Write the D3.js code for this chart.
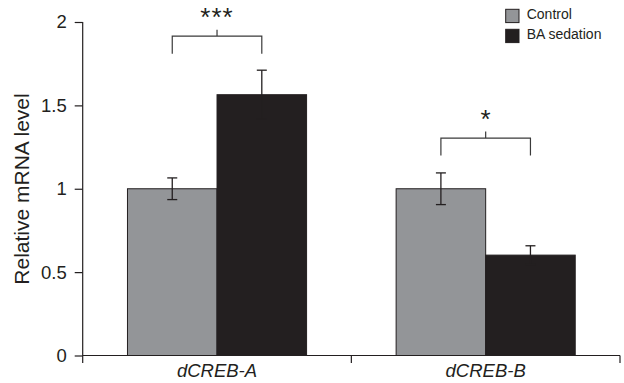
<!DOCTYPE html>
<html lang="en">
<head>
  <meta charset="UTF-8" />
  <title>Relative mRNA level</title>
  <style>
    body { margin: 0; background: #fff; }
    text { font-family: "Liberation Sans", Arial, sans-serif; fill: #231f20; }
  </style>
</head>
<body>
  <div class="chart"></div>
  <script src="https://cdn.jsdelivr.net/npm/d3@7/dist/d3.min.js"></script>
  <script>
    var genes = ["dCREB-A", "dCREB-B"];
    var groups = ["Control", "BA sedation"];
    var controlValues = [1.0, 1.0];
    var controlErrors = [0.065, 0.095];
    var sedationValues = [1.564, 0.602];
    var sedationErrors = [0.147, 0.056];
    var stars = ["***", "*"];
    var yTicks = [0, 0.5, 1, 1.5, 2];

    var colors = { "Control": "#939598", "BA sedation": "#231f20" };

    var w = 624, h = 383;
    var svg = d3.select(".chart").append("svg")
      .attr("width", w)
      .attr("height", h);

    var x = d3.scaleBand().domain(genes).range([82.7, 620]);
    var xSub = d3.scaleBand().domain(groups)
      .range([0, x.bandwidth()])
      .paddingOuter(0.5);
    var y = d3.scaleLinear().domain([0, 2]).range([355.5, 22]);

    var rows = [];
    genes.forEach(function(g, i) {
      rows.push({ gene: g, group: "Control", value: controlValues[i], err: controlErrors[i] });
      rows.push({ gene: g, group: "BA sedation", value: sedationValues[i], err: sedationErrors[i] });
    });

    // bars
    svg.selectAll("rect.bar")
      .data(rows)
      .enter()
      .append("rect")
      .attr("class", "bar")
      .attr("x", function(d) { return x(d.gene) + xSub(d.group); })
      .attr("y", function(d) { return y(d.value); })
      .attr("width", xSub.bandwidth())
      .attr("height", function(d) { return y(0) - y(d.value); })
      .attr("fill", function(d) { return colors[d.group]; })
      .attr("stroke", "#231f20")
      .attr("stroke-width", 1);

    // error bars
    var err = svg.append("g")
      .attr("stroke", "#231f20")
      .attr("stroke-width", 1.3);
    rows.forEach(function(d) {
      var cx = x(d.gene) + xSub(d.group) + xSub.bandwidth() / 2;
      var top = y(d.value + d.err), bot = y(d.value - d.err);
      err.append("line").attr("x1", cx).attr("x2", cx).attr("y1", top).attr("y2", bot);
      err.append("line").attr("x1", cx - 5).attr("x2", cx + 5).attr("y1", top).attr("y2", top);
      err.append("line").attr("x1", cx - 5).attr("x2", cx + 5).attr("y1", bot).attr("y2", bot);
    });

    // significance brackets
    var brackets = [
      { gene: genes[0], level: 1.915, leg: 0.105, label: stars[0] },
      { gene: genes[1], level: 1.304, leg: 0.105, label: stars[1] }
    ];
    var br = svg.append("g");
    brackets.forEach(function(b) {
      var x1 = x(b.gene) + xSub("Control") + xSub.bandwidth() / 2;
      var x2 = x(b.gene) + xSub("BA sedation") + xSub.bandwidth() / 2;
      var mid = (x1 + x2) / 2;
      var yl = y(b.level), yb = y(b.level - b.leg);
      br.append("path")
        .attr("d", "M" + x1 + "," + yb + "V" + yl + "H" + x2 + "V" + yb +
                   "M" + mid + "," + yl + "V" + (yl - 6.5))
        .attr("fill", "none")
        .attr("stroke", "#3a3a3a")
        .attr("stroke-width", 1.2);
      br.append("text")
        .attr("x", mid)
        .attr("y", yl - 10)
        .attr("text-anchor", "middle")
        .style("font-size", "26px")
        .style("letter-spacing", b.label.length > 1 ? "1px" : "0px")
        .text(b.label);
    });

    // y axis
    var yAxis = d3.axisLeft(y)
      .tickValues(yTicks)
      .tickFormat(function(d) { return d; })
      .tickSize(8)
      .tickSizeOuter(0)
      .tickPadding(8);
    var gy = svg.append("g")
      .attr("transform", "translate(82.7,0)")
      .call(yAxis);
    gy.select(".domain").remove();
    gy.selectAll("line").attr("stroke", "#231f20").attr("stroke-width", 1.2);
    gy.selectAll("text")
      .style("font-size", "18.5px")
      .style("font-family", "'Liberation Sans', Arial, sans-serif")
      .attr("fill", "#231f20");
    gy.append("line")
      .attr("x1", 0).attr("x2", 0)
      .attr("y1", y(2)).attr("y2", y(0) + 7.5)
      .attr("stroke", "#231f20")
      .attr("stroke-width", 1.2);

    // x axis
    var xAxis = d3.axisBottom(x).tickSize(0).tickPadding(21);
    var gx = svg.append("g")
      .attr("transform", "translate(0," + y(0) + ")")
      .call(xAxis);
    gx.select(".domain").remove();
    gx.append("line")
      .attr("x1", x.range()[0]).attr("x2", x.range()[1])
      .attr("stroke", "#231f20").attr("stroke-width", 1.2);
    gx.selectAll(".tick text")
      .style("font-size", "18.5px")
      .style("font-style", "italic")
      .style("font-family", "'Liberation Sans', Arial, sans-serif")
      .attr("fill", "#231f20")
      .attr("dy", 0)
      .attr("y", 21);
    gx.selectAll("line.edge")
      .data(genes)
      .enter()
      .append("line")
      .attr("class", "edge")
      .attr("x1", function(d) { return x(d) + x.bandwidth(); })
      .attr("x2", function(d) { return x(d) + x.bandwidth(); })
      .attr("y1", 0).attr("y2", 7.5)
      .attr("stroke", "#231f20").attr("stroke-width", 1.2);

    // y label
    svg.append("text")
      .attr("transform", "translate(28.5,189) rotate(-90)")
      .attr("text-anchor", "middle")
      .style("font-size", "21px")
      .text("Relative mRNA level");

    // legend
    var legend = svg.append("g").attr("transform", "translate(505.7,9.3)");
    legend.selectAll("rect")
      .data(groups)
      .enter()
      .append("rect")
      .attr("x", 0)
      .attr("y", function(d, i) { return i * 20; })
      .attr("width", 13.3)
      .attr("height", 13.3)
      .attr("fill", function(d) { return colors[d]; })
      .attr("stroke", "#231f20")
      .attr("stroke-width", 1);
    legend.selectAll("text")
      .data(groups)
      .enter()
      .append("text")
      .attr("x", 21)
      .attr("y", function(d, i) { return 9.3 + i * 20.5; })
      .style("font-size", "14px")
      .text(function(d) { return d; });
  </script>
</body>
</html>
